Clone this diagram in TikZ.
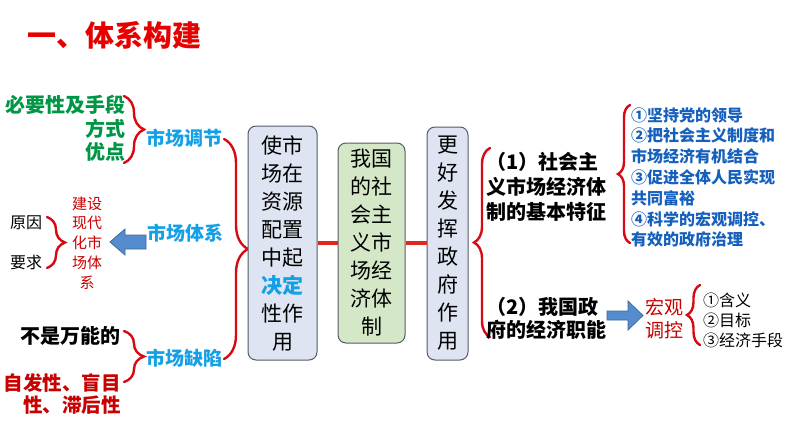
\documentclass[tikz,border=0pt]{standalone}
\usepackage{fontspec}
\setmainfont{Noto Sans CJK SC}
\usetikzlibrary{decorations.pathreplacing}
\definecolor{titlered}{RGB}{230,0,0}
\definecolor{bracered}{RGB}{215,10,20}
\definecolor{mygreen}{RGB}{0,150,70}
\definecolor{cyanblue}{RGB}{20,160,230}
\definecolor{darkblue}{RGB}{21,96,189}
\definecolor{textred}{RGB}{200,0,0}
\definecolor{boxblue}{RGB}{222,228,241}
\definecolor{boxgreen}{RGB}{212,232,200}
\definecolor{boxedge}{RGB}{85,92,105}
\definecolor{arrowfill}{RGB}{85,140,205}
\definecolor{arrowedge}{RGB}{60,105,160}
\definecolor{linkred}{RGB}{225,40,30}
\tikzset{
  bracel/.style={decorate, decoration={brace, amplitude=#1}, draw=bracered, line width=2.4pt, line cap=round},
  colbox/.style={draw=boxedge, line width=1pt, rounded corners=8pt, inner sep=0pt, align=center,
    font=\fontsize{21}{28}\selectfont},
  lbl/.style={inner sep=0pt, font=\fontsize{19}{19}\selectfont\bfseries, text=cyanblue},
  blockarrow/.style={fill=arrowfill, draw=arrowedge, line width=0.8pt},
  link/.style={draw=linkred, line width=3.5pt}
}
\begin{document}
\begin{tikzpicture}[x=1pt,y=-1pt]
\useasboundingbox (0,0) rectangle (794,447);
\fill[white] (0,0) rectangle (794,447);

% title
\node[anchor=west, inner sep=0pt, text=titlered, font=\fontsize{29}{29}\selectfont\bfseries] (title) at (27,35) {一、体系构建};

% market regulation
\node[anchor=east, inner sep=0pt, text=mygreen, font=\fontsize{20}{20}\selectfont\bfseries] (nec) at (126,105) {必要性及手段};
\node[anchor=east, inner sep=0pt, text=mygreen, font=\fontsize{20}{20}\selectfont\bfseries] (fs) at (126,129) {方式};
\node[anchor=east, inner sep=0pt, text=mygreen, font=\fontsize{20}{20}\selectfont\bfseries] (yd) at (126,152) {优点};
\draw[bracel=20pt] (124,96) -- (124,163);
\node[lbl, anchor=west] (tj) at (146,138) {市场调节};

% market system
\node[lbl, anchor=west] (tx) at (147,233) {市场体系};
\fill[blockarrow] (146,235) -- (125,235) -- (125,229) -- (110,242) -- (125,255) -- (125,249) -- (146,249) -- cycle;
\node[inner sep=0pt, align=center, text=textred, font=\fontsize{15}{19.8}\selectfont] (js) at (87,243) {建设\\现代\\化市\\场体\\系};
\node[inner sep=0pt, font=\fontsize{16}{16}\selectfont] (yy) at (26,223) {原因};
\node[inner sep=0pt, font=\fontsize{16}{16}\selectfont] (yq) at (26,262) {要求};
\draw[bracel=18pt] (47,217) -- (47,268);

% market defects
\node[anchor=east, inner sep=0pt, font=\fontsize{20}{20}\selectfont\bfseries] (bs) at (121,336) {不是万能的};
\node[anchor=east, inner sep=0pt, align=right, text=textred, font=\fontsize{19.5}{22}\selectfont\bfseries] (zf) at (121,394) {自发性、盲目\\性、滞后性};
\draw[bracel=20pt] (124,331) -- (124,382);
\node[lbl, anchor=west] (qx) at (146,358) {市场缺陷};

% big brace to box1
\draw[bracel=24pt] (224,139) -- (224,359);

% boxes
\node[colbox, fill=boxblue, minimum width=69pt, minimum height=234pt] (b1) at (282.5,243)
  {使市\\场在\\资源\\配置\\中起\\{\color{cyanblue}\bfseries 决定}\\性作\\用};
\node[colbox, fill=boxgreen, minimum width=67pt, minimum height=200pt] (b2) at (371.5,243)
  {我国\\的社\\会主\\义市\\场经\\济体\\制};
\node[colbox, fill=boxblue, minimum width=41pt, minimum height=233pt] (b3) at (447.5,243.5)
  {更\\好\\发\\挥\\政\\府\\作\\用};
\draw[link] (b1.east) -- (b2.west);
\draw[link] (b2.east) -- (b3.west |- b2.east);

% right brace
\draw[bracel=16pt] (490,337) -- (490,148);

\node[anchor=west, inner sep=0pt, align=left, font=\fontsize{20}{25}\selectfont\bfseries] (t1) at (486,187)
  {（1）社会主\\义市场经济体\\制的基本特征};
\draw[bracel=12pt] (630,243) -- (630,105);
\node[anchor=west, inner sep=0pt, align=left, text=darkblue, font=\fontsize{16}{20.8}\selectfont\bfseries] (feat) at (631,177.5)
  {①坚持党的领导\\②把社会主义制度和\\市场经济有机结合\\③促进全体人民实现\\共同富裕\\④科学的宏观调控、\\有效的政府治理};

\node[anchor=west, inner sep=0pt, align=left, font=\fontsize{20}{23}\selectfont\bfseries] (t2) at (486,318.5)
  {（2）我国政\\府的经济职能};
\fill[blockarrow] (607,311) -- (628,311) -- (628,301) -- (643,315.5) -- (628,330) -- (628,320) -- (607,320) -- cycle;
\node[inner sep=0pt, align=center, text=textred, font=\fontsize{19}{23}\selectfont] (hg) at (664,318.5) {宏观\\调控};
\draw[bracel=13pt] (700,345) -- (700,285);
\node[anchor=west, inner sep=0pt, align=left, font=\fontsize{16}{20}\selectfont] (items) at (703,320)
  {①含义\\②目标\\③经济手段};
\end{tikzpicture}
\end{document}
